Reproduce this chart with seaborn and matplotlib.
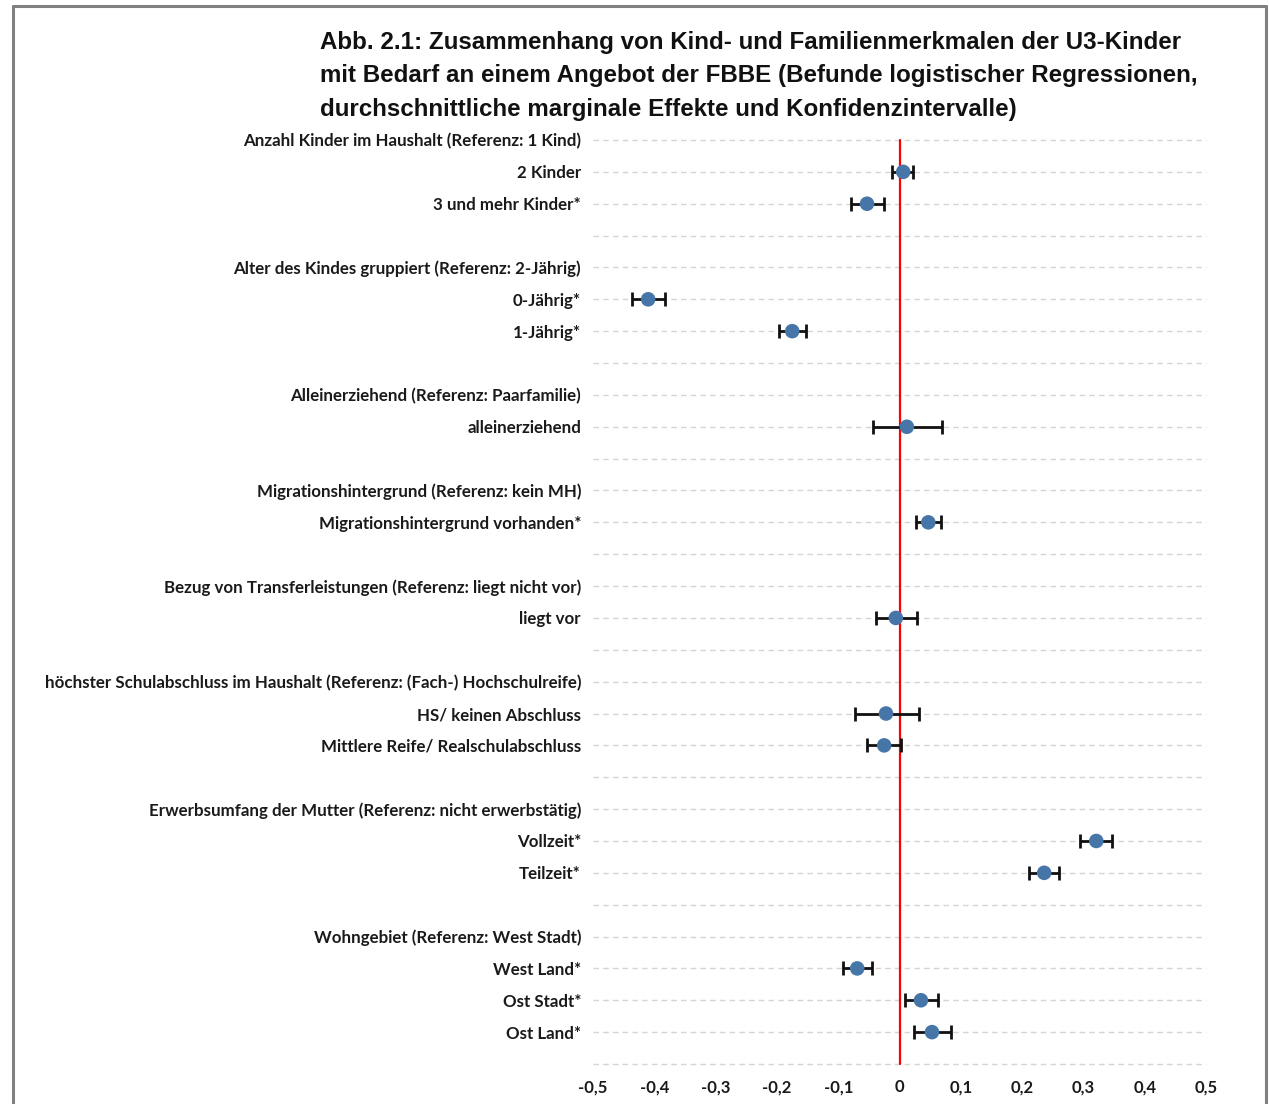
import numpy as np
import pandas as pd
import matplotlib
matplotlib.use("Agg")
import matplotlib.pyplot as plt
import seaborn as sns
from matplotlib.lines import Line2D

row_labels = [
    "Anzahl Kinder im Haushalt (Referenz: 1 Kind)",
    "2 Kinder",
    "3 und mehr Kinder*",
    "",
    "Alter des Kindes gruppiert (Referenz: 2-Jährig)",
    "0-Jährig*",
    "1-Jährig*",
    "",
    "Alleinerziehend (Referenz: Paarfamilie)",
    "alleinerziehend",
    "",
    "Migrationshintergrund (Referenz: kein MH)",
    "Migrationshintergrund vorhanden*",
    "",
    "Bezug von Transferleistungen (Referenz: liegt nicht vor)",
    "liegt vor",
    "",
    "höchster Schulabschluss im Haushalt (Referenz: (Fach-) Hochschulreife)",
    "HS/ keinen Abschluss",
    "Mittlere Reife/ Realschulabschluss",
    "",
    "Erwerbsumfang der Mutter (Referenz: nicht erwerbstätig)",
    "Vollzeit*",
    "Teilzeit*",
    "",
    "Wohngebiet (Referenz: West Stadt)",
    "West Land*",
    "Ost Stadt*",
    "Ost Land*",
    "",
]
nan = np.nan
effect = [nan, 0.006, -0.053, nan, nan, -0.410, -0.175, nan, nan, 0.012, nan, nan, 0.047, nan,
          nan, -0.006, nan, nan, -0.022, -0.025, nan, nan, 0.321, 0.236, nan, nan, -0.069, 0.035, 0.053, nan]
ci_low = [nan, -0.012, -0.079, nan, nan, -0.436, -0.197, nan, nan, -0.043, nan, nan, 0.027, nan,
          nan, -0.038, nan, nan, -0.073, -0.053, nan, nan, 0.295, 0.212, nan, nan, -0.092, 0.009, 0.024, nan]
ci_high = [nan, 0.022, -0.025, nan, nan, -0.382, -0.153, nan, nan, 0.069, nan, nan, 0.068, nan,
           nan, 0.028, nan, nan, 0.032, 0.002, nan, nan, 0.347, 0.261, nan, nan, -0.045, 0.063, 0.084, nan]
x_ticks = [-0.5, -0.4, -0.3, -0.2, -0.1, 0, 0.1, 0.2, 0.3, 0.4, 0.5]

title = ("Abb. 2.1: Zusammenhang von Kind- und Familienmerkmalen der U3-Kinder\n"
         "mit Bedarf an einem Angebot der FBBE (Befunde logistischer Regressionen,\n"
         "durchschnittliche marginale Effekte und Konfidenzintervalle)")

df = pd.DataFrame({"row": np.arange(len(row_labels)), "label": row_labels,
                   "effect": effect, "low": ci_low, "high": ci_high})

sns.set_theme(style="white")
plt.rcParams["font.family"] = ["Lato", "DejaVu Sans"]

W, H = 1269, 1104
fig = plt.figure(figsize=(W / 100, H / 100), dpi=100)
ax_left, ax_right, ax_top, ax_bot = 593, 1206, 140, 1064
ax = fig.add_axes([ax_left / W, 1 - ax_bot / H, (ax_right - ax_left) / W, (ax_bot - ax_top) / H])

n = len(row_labels)
ax.set_xlim(-0.5, 0.5)
ax.set_ylim(n - 1, 0)

for i in range(n):
    ax.axhline(i, color="#d4d4d4", lw=1.0, ls=(0, (4, 3)), zorder=0, clip_on=False)

ax.axvline(0, color="#ff0000", lw=1.6, zorder=1, clip_on=False)

d = df.dropna()
xerr = np.vstack([d["effect"] - d["low"], d["high"] - d["effect"]])
ax.errorbar(d["effect"], d["row"], xerr=xerr, fmt="none", ecolor="#111111",
            elinewidth=2.0, capsize=5, capthick=2.0, zorder=2)
sns.scatterplot(data=d, x="effect", y="row", ax=ax, color="#4676a8", s=110,
                edgecolor="none", zorder=3, legend=False)

ax.set_yticks(np.arange(n))
ax.set_yticklabels(row_labels, fontsize=12.2, fontweight="bold", color="#1a1a1a")
ax.set_xticks(x_ticks)
ax.set_xticklabels([("0" if t == 0 else f"{t:.1f}".replace(".", ",")) for t in x_ticks],
                   fontsize=12, fontweight="bold", color="#1a1a1a")
ax.tick_params(axis="y", length=0, pad=8.6)
ax.tick_params(axis="x", length=0, pad=11)
ax.set_xlabel("")
ax.set_ylabel("")
for s in ax.spines.values():
    s.set_visible(False)

fig.text(320 / W, 1 - 31 / H, title, ha="left", va="top", fontsize=17.4, fontweight="bold",
         family=["Liberation Sans", "DejaVu Sans"], color="#111111", linespacing=1.58)

# frame
fx0, fx1, fy0 = 13 / W, 1266 / W, 1 - 6 / H
for xs, ys in [([fx0, fx0], [0, fy0]), ([fx0, fx1], [fy0, fy0]), ([fx1, fx1], [fy0, 0])]:
    fig.add_artist(Line2D(xs, ys, transform=fig.transFigure, color="#808080", lw=2.2))

fig.savefig("out.png", dpi=100, facecolor="white")
